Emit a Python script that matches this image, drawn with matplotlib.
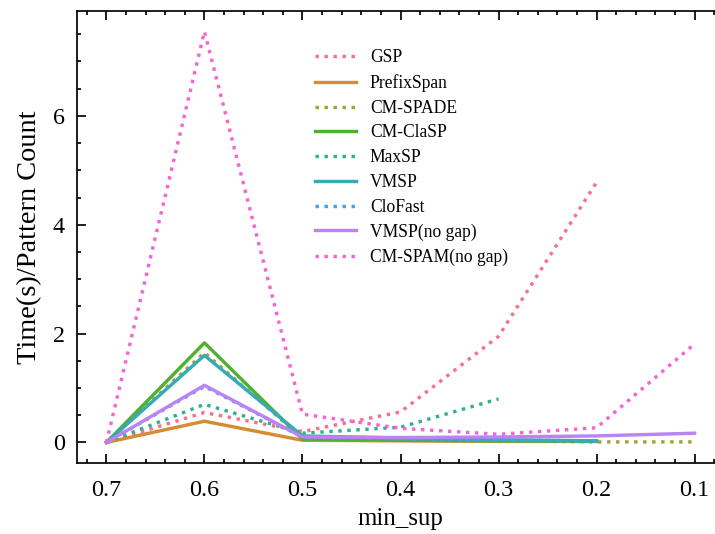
import matplotlib
matplotlib.use("Agg")
import matplotlib.pyplot as plt
import seaborn as sns
from matplotlib.ticker import AutoMinorLocator, MultipleLocator

########
# DATA #
########

min_sup = [0.7, 0.6, 0.5, 0.4, 0.3, 0.2, 0.1]

gsp = [0.0, 0.55, 0.20, 0.56, 1.95, 4.78]
prefixspan = [0.0, 0.39, 0.04, 0.03, 0.02, 0.02]
cm_spade = [0.0, 1.65, 0.08, 0.05, 0.03, 0.01, 0.01]
cm_clasp = [0.0, 1.83, 0.06, 0.04, 0.03, 0.02]
maxsp = [0.0, 0.70, 0.17, 0.28, 0.80]
vmsp = [0.0, 1.60, 0.12, 0.08, 0.05, 0.03]
clofast = [0.0, 1.03, 0.10, 0.06, 0.04, 0.03]
vmsp_nogap = [0.0, 1.05, 0.10, 0.09, 0.10, 0.12, 0.17]
cm_spam_nogap = [0.0, 7.55, 0.52, 0.26, 0.15, 0.27, 1.81]

series = [
    ("GSP", gsp, ":"),
    ("PrefixSpan", prefixspan, "-"),
    ("CM-SPADE", cm_spade, ":"),
    ("CM-ClaSP", cm_clasp, "-"),
    ("MaxSP", maxsp, ":"),
    ("VMSP", vmsp, "-"),
    ("CloFast", clofast, ":"),
    ("VMSP(no gap)", vmsp_nogap, "-"),
    ("CM-SPAM(no gap)", cm_spam_nogap, ":"),
]

########
# PLOT #
########

plt.rcParams["font.family"] = ["Liberation Serif", "DejaVu Serif"]

colors = sns.color_palette("husl", len(series))

fig = plt.figure(figsize=(715 / 204, 534 / 204), dpi=204)
ax = fig.add_axes([77 / 715, 71 / 534, 647 / 715, 452 / 534])

for (name, values, style), c in zip(series, colors):
    ax.plot(min_sup[:len(values)], values, linestyle=style, color=c,
            linewidth=1.2, label=name)

ax.invert_xaxis()
ax.set_xticks(min_sup)
ax.set_xticklabels([str(v) for v in min_sup])
ax.yaxis.set_major_locator(MultipleLocator(2))
ax.xaxis.set_minor_locator(AutoMinorLocator(5))
ax.yaxis.set_minor_locator(AutoMinorLocator(4))

ax.tick_params(which="both", direction="in", top=True, right=True,
               width=0.6, labelsize=8.5)
ax.tick_params(axis="x", pad=6)
ax.tick_params(axis="y", pad=4.2)
ax.tick_params(which="major", length=3.3)
ax.tick_params(which="minor", length=1.5)
for s in ax.spines.values():
    s.set_linewidth(0.6)

ax.set_xlabel("min_sup", fontsize=8.8, labelpad=2.5)
ax.set_ylabel("Time(s)/Pattern Count", fontsize=10, labelpad=4)

ax.legend(loc="upper left", bbox_to_anchor=(0.344, 0.950), frameon=False,
          fontsize=6.2, handlelength=2.3, labelspacing=0.44)

fig.savefig("out.png", dpi=204)
